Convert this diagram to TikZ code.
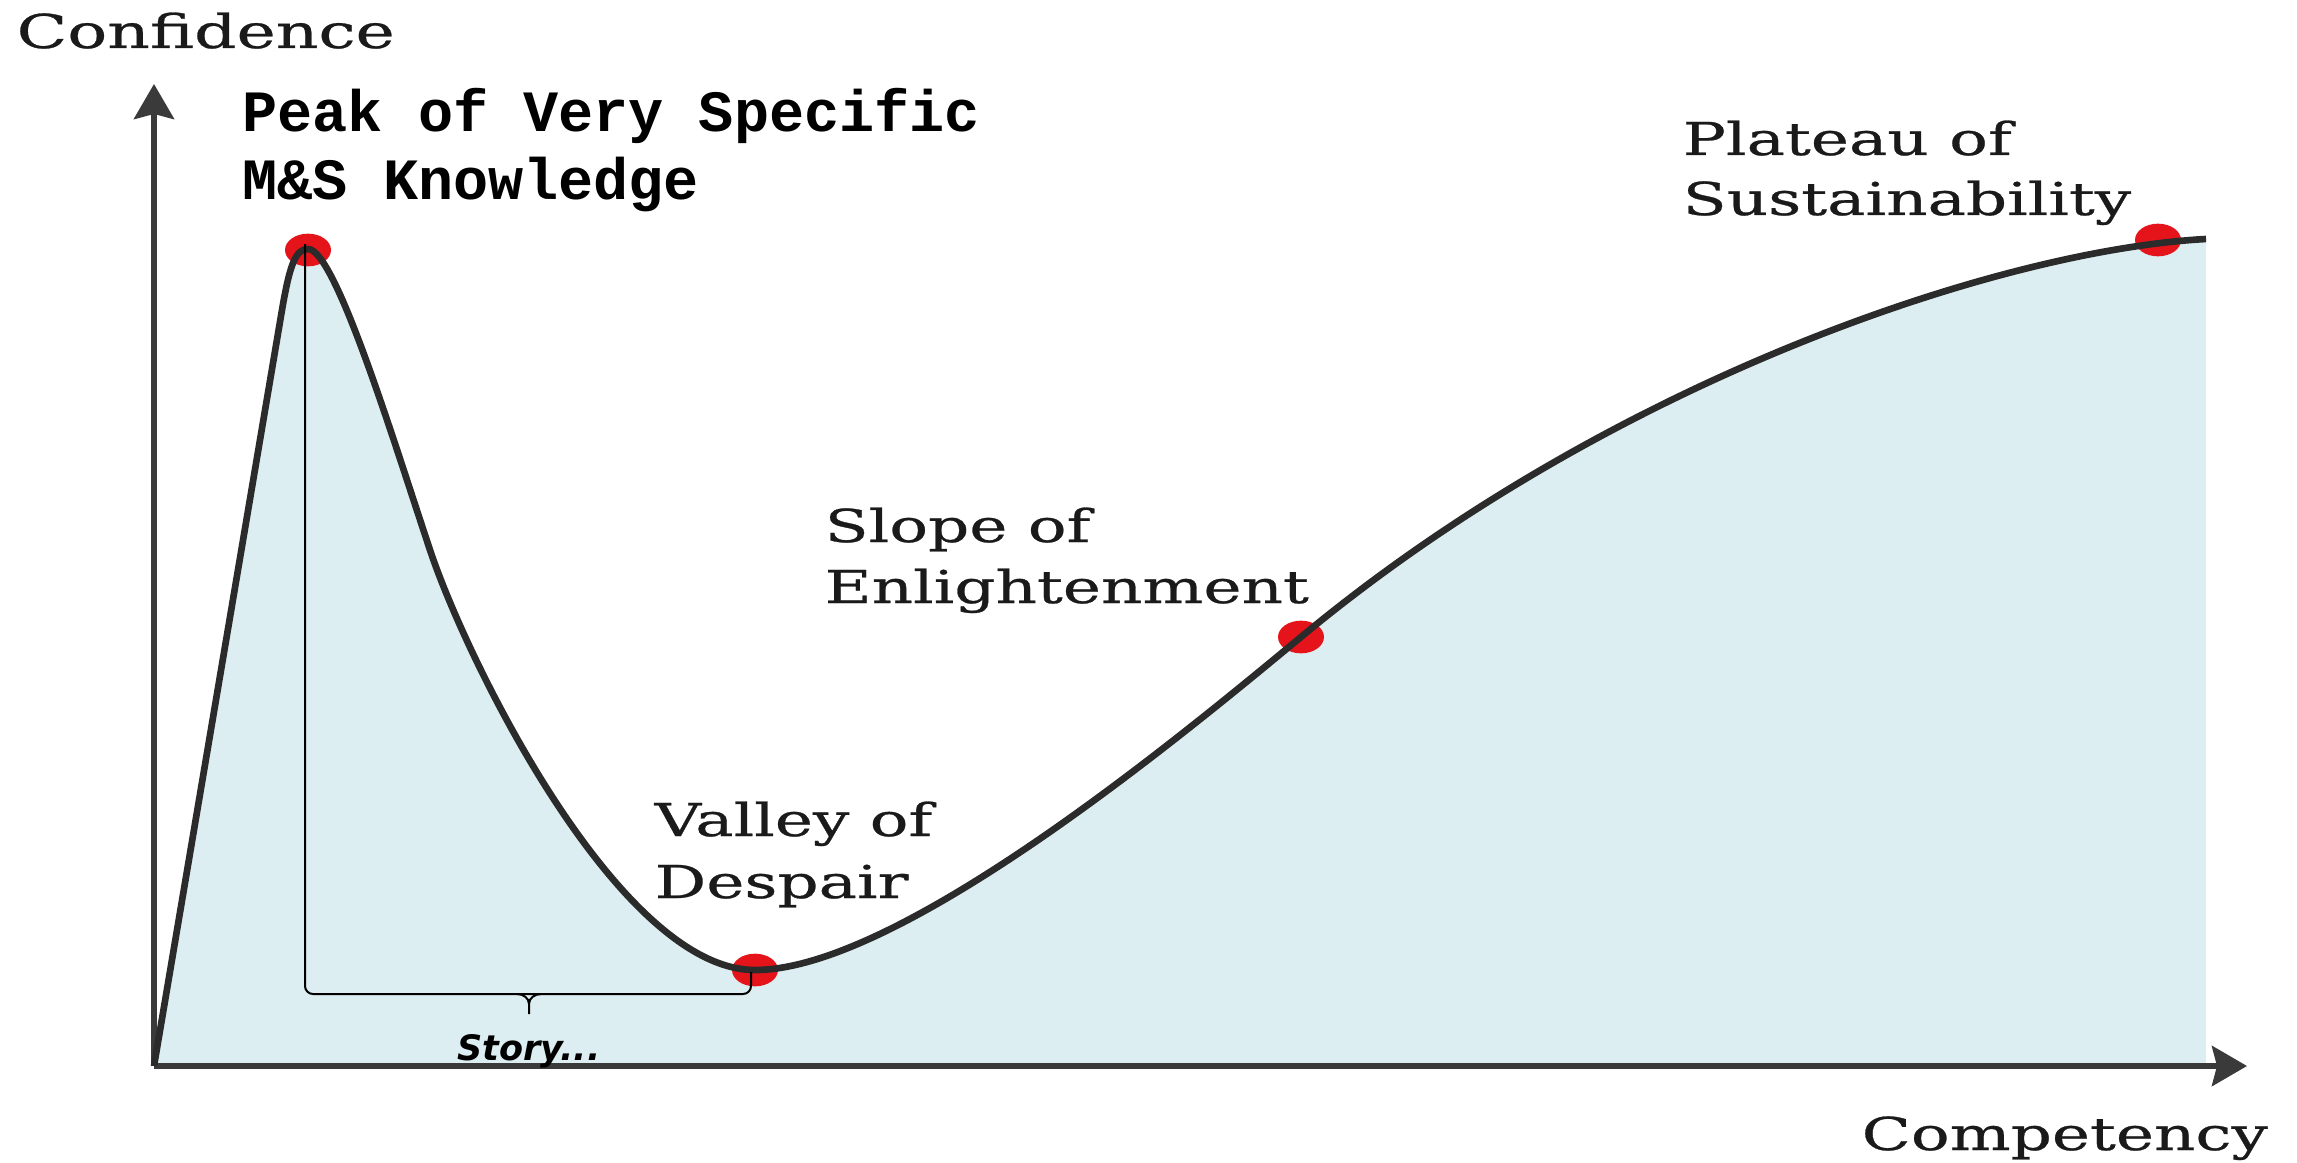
\documentclass[tikz,border=0pt]{standalone}
\usepackage{fontspec}
\usetikzlibrary{arrows.meta,shapes.geometric}
\newfontfamily\slabfont[FakeStretch=1.42,FakeBold=0.6]{DejaVu Serif}
\newfontfamily\pkmono{Liberation Mono}
\newfontfamily\storyfont{DejaVu Sans}
\definecolor{fillblue}{HTML}{DCEEF1}
\definecolor{curvegray}{HTML}{2B2B2B}
\definecolor{axisgray}{HTML}{3A3A3A}
\definecolor{dotred}{HTML}{E5141B}
\definecolor{textblack}{HTML}{1A1A1A}
\begin{document}
\begin{tikzpicture}[x=0.3pt,y=-0.3pt,
  lbl/.style={anchor=base west,inner sep=0pt,text=textblack,font=\slabfont\fontsize{13.6pt}{16pt}\selectfont},
  pklbl/.style={anchor=base west,inner sep=0pt,text=black,font=\pkmono\bfseries\fontsize{17.55pt}{20pt}\selectfont},
  dot/.style={ellipse,fill=dotred,draw=none,minimum width=13.8pt,minimum height=9.8pt,inner sep=0pt},
  axis/.style={draw=axisgray,line width=1.8pt,-{Stealth[length=10.5pt,width=12pt,inset=1.5pt]}},
  curve/.style={draw=curvegray,line width=2pt},
  brace/.style={draw=black,line width=0.6pt}]
\useasboundingbox (0,0) rectangle (2297,1162);
\fill[white] (0,0) rectangle (2297,1162);
% filled area under the curve
\fill[fillblue] (154,1066) -- (282,310) .. controls (290,263) and (296,249) .. (308,249)
  .. controls (335,249) and (392,436) .. (430,550)
  .. controls (468,664) and (620,970) .. (755,970)
  .. controls (900,970) and (1185,733) .. (1301,637)
  .. controls (1609,381) and (2000,250) .. (2206,239)
  -- (2206,1066) -- cycle;
% axes
\coordinate (o) at (154,1066);
\coordinate (ytip) at (154,84);
\coordinate (xtip) at (2247,1066);
\draw[axis] (o) -- (ytip);
\draw[axis] (o) -- (xtip);
% dots
\node[dot] (peak) at (308,250) {};
\node[dot] (valley) at (755,970) {};
\node[dot] (slope) at (1301,637) {};
\node[dot] (plateau) at (2158,240) {};
% curve
\draw[curve,line join=round] (o) -- (282,310) .. controls (290,263) and (296,249) .. (308,249)
  .. controls (335,249) and (392,436) .. (430,550)
  .. controls (468,664) and (620,970) .. (755,970)
  .. controls (900,970) and (1185,733) .. (1301,637)
  .. controls (1609,381) and (2000,250) .. (2206,239);
% bracket
\coordinate (bstart) at (305,244);
\coordinate (bend) at (751,972);
\coordinate (bmid) at (529,1004);
\coordinate (btip) at (529,1014);
\draw[brace,rounded corners=2.4pt] (bstart) |- (751,994) -- (bend);
\draw[brace] (517,994) to[out=0,in=90] (bmid) -- (btip);
\draw[brace] (541,994) to[out=180,in=90] (bmid);
% labels
\node[lbl,font=\slabfont\fontsize{14pt}{16pt}\selectfont] (conf) at (16,48) {Confidence};
\node[lbl] (comp) at (1861,1150) {Competency};
\node[pklbl] (pk1) at (242,132) {Peak of Very Specific};
\node[pklbl] (pk2) at (242,200) {M\&S Knowledge};
\node[lbl] (pl1) at (1682,155) {Plateau of};
\node[lbl] (pl2) at (1682,215) {Sustainability};
\node[lbl] (sl1) at (824,542) {Slope of};
\node[lbl] (sl2) at (824,603) {Enlightenment};
\node[lbl] (va1) at (654,836) {Valley of};
\node[lbl] (va2) at (654,898) {Despair};
\node[anchor=base,inner sep=0pt,font=\storyfont\bfseries\itshape\fontsize{10.5pt}{12pt}\selectfont] (story) at (529,1060) {Story...};
\end{tikzpicture}
\end{document}
